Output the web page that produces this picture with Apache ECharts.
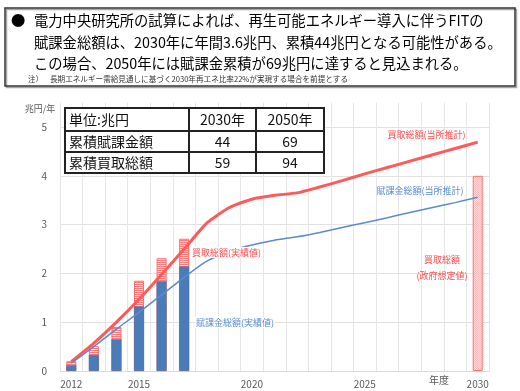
<!DOCTYPE html>
<html>
<head>
<meta charset="utf-8">
<script src="https://cdn.jsdelivr.net/npm/echarts@6.0.0/dist/echarts.min.js"></script>
<style>
html,body{margin:0;padding:0;background:#fff;}
#chart{width:520px;height:391px;}
</style>
</head>
<body>
<div id="chart"></div>
<script>
// ---- data ----
const years = ['2012','2013','2014','2015','2016','2017','2018','2019','2020','2021','2022','2023','2024','2025','2026','2027','2028','2029','2030'];
const xTickLabels = ['2012','2015','2020','2025','2030'];
// actual bars (2012-2017)
const kaitoriActual = [0.2, 0.51, 0.9, 1.85, 2.31, 2.71];
const fukakinActual = [0.12, 0.33, 0.65, 1.32, 1.84, 2.14];
// government assumption for 2030
const govt2030 = 4.0;
// lines (2012-2030)
const kaitoriLine = [0.19, 0.57, 1.0, 1.47, 1.98, 2.5, 3.03, 3.35, 3.52, 3.6, 3.65, 3.77, 3.9, 4.04, 4.17, 4.3, 4.43, 4.56, 4.69];
const fukakinLine = [0.16, 0.5, 0.86, 1.2, 1.56, 1.92, 2.25, 2.45, 2.58, 2.68, 2.75, 2.84, 2.94, 3.04, 3.14, 3.25, 3.35, 3.45, 3.56];
// table
const tableHead = ['単位:兆円', '2030年', '2050年'];
const tableRowLabels = ['累積賦課金額', '累積買取総額'];
const table2030 = [44, 59];
const table2050 = [69, 94];
// texts
const headerLines = [
  '電力中央研究所の試算によれば、再生可能エネルギー導入に伴うFITの',
  '賦課金総額は、2030年に年間3.6兆円、累積44兆円となる可能性がある。',
  'この場合、2050年には賦課金累積が69兆円に達すると見込まれる。'
];
const noteHead = '注）';
const noteText = '長期エネルギー需給見通しに基づく2030年再エネ比率22%が実現する場合を前提とする';

// ---- helpers ----
const FONT = '"Noto Sans CJK JP", "Noto Sans", sans-serif';
function pad(arr) { return years.map((y, i) => (i < arr.length ? arr[i] : null)); }
function stripePattern() {
  const c = document.createElement('canvas');
  c.width = 4; c.height = 2;
  const g = c.getContext('2d');
  g.fillStyle = '#ffe6e6'; g.fillRect(0, 0, 4, 2);
  g.fillStyle = '#ff7a7a'; g.fillRect(0, 0, 4, 1);
  return c;
}
function dotPattern() {
  const c = document.createElement('canvas');
  c.width = 2; c.height = 2;
  const g = c.getContext('2d');
  g.fillStyle = '#fde0e0'; g.fillRect(0, 0, 2, 2);
  g.fillStyle = '#f7bcbc'; g.fillRect(0, 0, 1, 1); g.fillRect(1, 1, 1, 1);
  return c;
}

const chart = echarts.init(document.getElementById('chart'), null, { renderer: 'canvas' });

// table graphic
const tX = 65, tY = 108, colX = [0, 124, 191, 259], rowY = [0, 23, 44, 65];
const tableEls = [
  { type: 'rect', shape: { x: 0, y: 0, width: colX[3], height: rowY[3] }, style: { fill: '#fff', stroke: '#222', lineWidth: 2 } },
  { type: 'line', shape: { x1: 0, y1: rowY[1], x2: colX[3], y2: rowY[1] }, style: { stroke: '#222', lineWidth: 2 } },
  { type: 'line', shape: { x1: 0, y1: rowY[2], x2: colX[3], y2: rowY[2] }, style: { stroke: '#222', lineWidth: 2 } },
  { type: 'line', shape: { x1: colX[1], y1: 0, x2: colX[1], y2: rowY[3] }, style: { stroke: '#222', lineWidth: 2 } },
  { type: 'line', shape: { x1: colX[2], y1: 0, x2: colX[2], y2: rowY[3] }, style: { stroke: '#222', lineWidth: 2 } }
];
function cellText(txt, col, row, align) {
  const cx = align === 'left' ? colX[col] + 4 : (colX[col] + colX[col + 1]) / 2;
  const cy = (rowY[row] + rowY[row + 1]) / 2 + 0.5;
  return { type: 'text', x: cx, y: cy, style: { text: String(txt), align: align, verticalAlign: 'middle', font: '14px ' + FONT, fill: '#111' } };
}
tableEls.push(cellText(tableHead[0], 0, 0, 'left'));
tableEls.push(cellText(tableHead[1], 1, 0, 'center'));
tableEls.push(cellText(tableHead[2], 2, 0, 'center'));
tableRowLabels.forEach((lab, i) => {
  tableEls.push(cellText(lab, 0, i + 1, 'left'));
  tableEls.push(cellText(table2030[i], 1, i + 1, 'center'));
  tableEls.push(cellText(table2050[i], 2, i + 1, 'center'));
});

function label(txt, x, y, color, align, bg) {
  const st = { text: txt, align: align, verticalAlign: 'middle', font: '9px ' + FONT, fill: color };
  if (bg) { st.backgroundColor = '#fff'; st.padding = [1, 1]; }
  return { type: 'text', x: x, y: y, z: 100, style: st };
}

const HF = '14.3px ' + FONT;
const graphics = [
  // header box
  { type: 'rect', z: 100, shape: { x: 5, y: 8, width: 510, height: 78 }, style: { fill: 'none', stroke: '#333', lineWidth: 1.5, shadowColor: 'rgba(0,0,0,0.35)', shadowOffsetX: 1.5, shadowOffsetY: 1.5, shadowBlur: 0 } },
  { type: 'text', z: 100, x: 11, y: 21, style: { text: '●', verticalAlign: 'middle', font: HF, fill: '#000' } },
  { type: 'text', z: 100, x: 34, y: 20.5, style: { text: headerLines[0], verticalAlign: 'middle', font: HF, fill: '#000' } },
  { type: 'text', z: 100, x: 34, y: 42.5, style: { text: headerLines[1], verticalAlign: 'middle', font: HF, fill: '#000' } },
  { type: 'text', z: 100, x: 34, y: 63.5, style: { text: headerLines[2], verticalAlign: 'middle', font: HF, fill: '#000' } },
  { type: 'text', z: 100, x: 28, y: 79, style: { text: noteHead, verticalAlign: 'middle', font: '7.6px ' + FONT, fill: '#333' } },
  { type: 'text', z: 100, x: 50, y: 79, style: { text: noteText, verticalAlign: 'middle', font: '7.6px ' + FONT, fill: '#333' } },
  // axis names
  { type: 'text', z: 100, x: 40, y: 109, style: { text: '兆円/年', align: 'center', verticalAlign: 'middle', font: '9px ' + FONT, fill: '#595959' } },
  { type: 'text', z: 100, x: 439, y: 380.5, style: { text: '年度', align: 'center', verticalAlign: 'middle', font: '10px ' + FONT, fill: '#595959' } },
  // table
  { type: 'group', x: tX, y: tY, z: 100, children: tableEls.map(e => Object.assign({ z: 100 }, e)) },
  // series labels
  label('買取総額(当所推計)', 426.5, 134.5, '#ff4d4d', 'center', false),
  label('賦課金総額(当所推計)', 420, 191, '#5b8bd0', 'center', false),
  label('買取総額(実績値)', 191, 252.5, '#ff4d4d', 'left', true),
  label('賦課金総額(実績値)', 195, 322.5, '#5b8bd0', 'left', true),
  label('買取総額', 442, 260, '#ff4d4d', 'center', false),
  label('(政府想定値)', 442, 276, '#ff4d4d', 'center', false)
];

const option = {
  backgroundColor: '#fff',
  animation: false,
  textStyle: { fontFamily: FONT },
  grid: { left: 60, right: 31, top: 102.6, bottom: 20, containLabel: false },
  xAxis: {
    type: 'category',
    data: years,
    boundaryGap: true,
    axisLine: { show: true, lineStyle: { color: '#d9d9d9', width: 1 } },
    axisTick: { show: false },
    splitLine: { show: true, interval: 0, lineStyle: { color: '#e6e6e6', width: 1 } },
    axisLabel: {
      interval: 0, margin: 8, color: '#595959', fontSize: 10, fontFamily: FONT,
      formatter: v => (xTickLabels.indexOf(v) >= 0 ? v : '')
    }
  },
  yAxis: {
    type: 'value', min: 0, max: 5.5, interval: 1,
    axisLine: { show: false }, axisTick: { show: false },
    splitLine: { show: true, showMaxLine: false, lineStyle: { color: '#e2e2e2', width: 1 } },
    axisLabel: {
      margin: 13, color: '#595959', fontSize: 10, fontFamily: FONT, showMaxLabel: false,
      formatter: v => (v > 5 ? '' : String(v))
    }
  },
  series: [
    {
      name: '買取総額(実績値)', type: 'bar', data: pad(kaitoriActual), barWidth: 10, barGap: '-100%',
      itemStyle: { color: { image: stripePattern(), repeat: 'repeat' }, borderColor: '#ff6b6b', borderWidth: 1 }
    },
    {
      name: '賦課金総額(実績値)', type: 'bar', data: pad(fukakinActual), barWidth: 10, barGap: '-100%',
      itemStyle: { color: '#4a7cb9', borderColor: '#3f6ea8', borderWidth: 0.5 }
    },
    {
      name: '買取総額(政府想定値)', type: 'bar', data: years.map(y => (y === '2030' ? govt2030 : null)), barWidth: 10, barGap: '-100%',
      itemStyle: { color: { image: dotPattern(), repeat: 'repeat' }, borderColor: '#ff7070', borderWidth: 1 }
    },
    {
      name: '買取総額', type: 'line', data: kaitoriLine, smooth: 0.2, symbol: 'none',
      lineStyle: { color: '#ff5a5a', width: 3 }, z: 5
    },
    {
      name: '賦課金総額', type: 'line', data: fukakinLine, smooth: 0.2, symbol: 'none',
      lineStyle: { color: '#5a8ad0', width: 1.5 }, z: 5
    }
  ],
  graphic: graphics
};
chart.setOption(option);
</script>
</body>
</html>
